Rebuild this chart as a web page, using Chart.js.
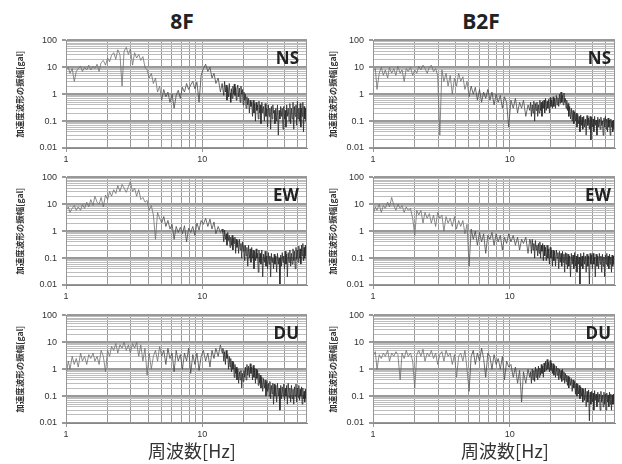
<!DOCTYPE html>
<html lang="ja">
<head>
<meta charset="utf-8">
<script src="https://cdn.jsdelivr.net/npm/chart.js@4.4.1/dist/chart.umd.min.js"></script>
<style>
  body { margin: 0; background: #fff; width: 622px; height: 464px; position: relative; overflow: hidden; }
  canvas { position: absolute; }
  .head { position: absolute; top: 11px; width: 120px; text-align: center; font: bold 21px "Open Sans", "Noto Sans", sans-serif; line-height: 21px; color: #222; }
  .comp { position: absolute; width: 60px; text-align: right; font: bold 17px "Open Sans", "Noto Sans", sans-serif; line-height: 17px; color: #222; }
  .xt { position: absolute; top: 439px; width: 140px; text-align: center; font: 18px "Noto Sans CJK JP", sans-serif; line-height: 22px; color: #333; }
</style>
</head>
<body>
<div class="head" style="left:122px">8F</div>
<div class="head" style="left:421px">B2F</div>

<canvas id="c8NS"></canvas>
<canvas id="c8EW"></canvas>
<canvas id="c8DU"></canvas>
<canvas id="cBNS"></canvas>
<canvas id="cBEW"></canvas>
<canvas id="cBDU"></canvas>

<div class="comp" style="left:239px;top:49px">NS</div>
<div class="comp" style="left:239px;top:186px">EW</div>
<div class="comp" style="left:239px;top:324px">DU</div>
<div class="comp" style="left:551px;top:49px">NS</div>
<div class="comp" style="left:551px;top:186px">EW</div>
<div class="comp" style="left:551px;top:324px">DU</div>

<div class="xt" style="left:122px">周波数[Hz]</div>
<div class="xt" style="left:435px">周波数[Hz]</div>

<script>
// frequency points [Hz] shared by all six spectra
const freq = [
  // 1 - 10 Hz
  1.00, 1.04, 1.07, 1.11, 1.15, 1.19,
  1.23, 1.28, 1.32, 1.37, 1.42, 1.47,
  1.52, 1.58, 1.63, 1.69, 1.75, 1.81,
  1.88, 1.95, 2.02, 2.09, 2.16,
  2.24, 2.32, 2.40, 2.49, 2.58,
  2.67, 2.77, 2.87, 2.97, 3.08,
  3.19, 3.30, 3.42, 3.54,
  3.67, 3.80, 3.94, 4.08, 4.23,
  4.38, 4.54, 4.70, 4.87, 5.04,
  5.22, 5.41, 5.60, 5.80,
  6.01, 6.22, 6.44, 6.67, 6.91,
  7.16, 7.41, 7.68, 7.95, 8.23,
  8.53, 8.83, 9.15, 9.48, 9.82,
  // 10 - 14 Hz
  10.2, 10.6, 11.0, 11.4, 11.8, 12.2, 12.6, 13.1, 13.6, 14.0,
  // 14 - 58 Hz
  14.2, 14.4, 14.6, 14.8, 15.0, 15.2, 15.4, 15.6, 15.8, 16.0,
  16.2, 16.4, 16.6, 16.8, 17.0, 17.2, 17.4, 17.6, 17.8, 18.0,
  18.25, 18.5, 18.75, 19.0, 19.25, 19.5, 19.75, 20.0, 20.25, 20.5,
  20.75, 21.0, 21.3, 21.6, 21.9, 22.2, 22.5, 22.8, 23.1, 23.4,
  23.7, 24.0, 24.3, 24.6, 24.9, 25.2, 25.5, 25.8, 26.1, 26.4,
  26.7, 27.0, 27.4, 27.8, 28.2, 28.6, 29.0, 29.4, 29.8, 30.2,
  30.6, 31.0, 31.4, 31.8, 32.2, 32.6, 33.0, 33.4, 33.8, 34.2,
  34.7, 35.2, 35.7, 36.2, 36.7, 37.2, 37.7, 38.2, 38.7, 39.2,
  39.7, 40.2, 40.7, 41.2, 41.7, 42.2, 42.8, 43.4, 44.0, 44.6,
  45.2, 45.8, 46.4, 47.0, 47.6, 48.2, 48.8, 49.4, 50.0, 50.6,
  51.2, 51.8, 52.4, 53.0, 53.6, 54.2, 54.8, 55.4, 56.0, 56.6,
  57.2, 57.8
];

// 8F amplitudes [gal]
const amp8F_NS = [
  8, 10, 6, 9, 3, 7,
  9, 11, 7, 10, 8, 12,
  8, 11, 9, 13, 7, 15,
  18, 12, 22, 16, 28,
  35, 20, 45, 30, 2,
  40, 55, 30, 48, 12,
  35, 22, 30, 18,
  25, 10, 8, 4, 6,
  2.5, 4, 1.2, 2, 0.6,
  1.5, 0.8, 1.2, 0.5,
  1.0, 0.3, 0.9, 1.4, 0.7,
  1.8, 1.2, 2.5, 1.5, 2.2,
  3, 1.6, 2.8, 0.5, 5,
  9, 13, 7, 10, 4, 6, 2.5, 4, 1.2, 2.5,
  2.5, 0.9, 3, 1.2, 2.2, 0.6, 1.8, 0.8, 2.5, 1.1,
  0.5, 1.6, 0.7, 2, 1, 2.4, 0.9, 1.8, 0.6, 1.5,
  2.2, 0.8, 1.7, 0.5, 2, 1, 1.5, 0.4, 1.2, 0.6,
  1, 0.3, 0.8, 0.4, 0.7, 0.2, 0.6, 0.35, 0.5, 0.15,
  0.6, 0.2, 0.45, 0.1, 0.5, 0.25, 0.4, 0.12, 0.55, 0.2,
  0.4, 0.08, 0.5, 0.2, 0.35, 0.1, 0.45, 0.15, 0.3, 0.06,
  0.4, 0.15, 0.3, 0.05, 0.35, 0.12, 0.4, 0.2, 0.25, 0.08,
  0.3, 0.1, 0.4, 0.03, 0.25, 0.12, 0.35, 0.15, 0.3, 0.05,
  0.35, 0.12, 0.25, 0.06, 0.4, 0.15, 0.3, 0.1, 0.45, 0.08,
  0.3, 0.12, 0.5, 0.05, 0.35, 0.15, 0.4, 0.07, 0.55, 0.12,
  0.3, 0.1, 0.45, 0.06, 0.3, 0.15, 0.5, 0.04, 0.35, 0.12,
  0.3, 0.1
];
const amp8F_EW = [
  6, 8, 5, 7, 9, 6,
  8, 6, 10, 7, 12, 8,
  15, 9, 20, 12, 10, 18,
  8, 22, 15, 30, 20,
  35, 25, 50, 30, 55,
  40, 28, 45, 70, 30,
  40, 20, 35, 15,
  18, 12, 14, 6, 9,
  4, 0.5, 5, 3, 2,
  3.5, 1.5, 2.5, 1.2,
  1.8, 0.5, 1.5, 0.9, 1.4,
  0.8, 1.6, 0.4, 1.3, 0.9,
  1.5, 0.7, 2.0, 1.1, 2.5,
  1.8, 3, 1.5, 2.8, 1.2, 2.2, 0.8, 1.5, 0.9, 1.2,
  0.9, 0.4, 1.1, 0.5, 0.8, 0.3, 0.9, 0.45, 0.7, 0.25,
  0.6, 0.3, 0.7, 0.2, 0.55, 0.35, 0.6, 0.15, 0.5, 0.25,
  0.45, 0.15, 0.5, 0.2, 0.35, 0.1, 0.4, 0.18, 0.3, 0.08,
  0.3, 0.12, 0.25, 0.05, 0.3, 0.1, 0.22, 0.07, 0.25, 0.1,
  0.2, 0.04, 0.18, 0.08, 0.22, 0.1, 0.15, 0.03, 0.2, 0.07,
  0.15, 0.06, 0.2, 0.02, 0.14, 0.07, 0.18, 0.05, 0.12, 0.04,
  0.16, 0.06, 0.12, 0.02, 0.15, 0.07, 0.1, 0.04, 0.14, 0.06,
  0.12, 0.03, 0.15, 0.06, 0.1, 0.01, 0.13, 0.05, 0.16, 0.07,
  0.12, 0.04, 0.18, 0.06, 0.14, 0.02, 0.16, 0.07, 0.2, 0.05,
  0.15, 0.06, 0.22, 0.08, 0.18, 0.04, 0.25, 0.09, 0.2, 0.07,
  0.28, 0.1, 0.22, 0.06, 0.3, 0.12, 0.35, 0.08, 0.25, 0.1,
  0.3, 0.12
];
const amp8F_DU = [
  0.6, 2, 1, 3, 1.5, 2.5,
  1.2, 4, 2, 3, 1.5, 3.5,
  2.5, 4, 2, 3, 1.5, 5,
  3, 0.8, 5, 3, 7,
  5, 9, 4, 8, 6,
  10, 5, 8, 4, 9,
  6, 10, 3, 8,
  2, 6, 0.6, 4, 1,
  3, 5, 2, 7, 3,
  5, 1.5, 6, 2.5,
  4, 0.8, 5, 2, 3.5,
  1, 4, 2, 6, 0.7,
  3.5, 1.5, 4, 0.9, 3,
  5, 2, 4, 1.2, 5, 2.5, 6, 3, 8, 4,
  6, 2, 4.5, 1.5, 5, 2.5, 3.5, 1, 3, 1.2,
  2.5, 0.8, 2, 1, 1.8, 0.5, 1.5, 0.7, 1.2, 0.4,
  1, 0.3, 0.8, 0.4, 0.9, 0.2, 0.7, 0.35, 0.9, 0.5,
  1.2, 0.4, 1.5, 0.6, 1.3, 0.5, 1.6, 0.7, 1.2, 0.4,
  1.4, 0.5, 1.1, 0.3, 1, 0.45, 0.9, 0.25, 0.7, 0.3,
  0.6, 0.2, 0.5, 0.15, 0.45, 0.2, 0.4, 0.1, 0.35, 0.15,
  0.3, 0.1, 0.35, 0.08, 0.25, 0.12, 0.3, 0.05, 0.28, 0.1,
  0.25, 0.06, 0.3, 0.1, 0.2, 0.03, 0.25, 0.08, 0.22, 0.1,
  0.28, 0.07, 0.2, 0.1, 0.25, 0.05, 0.3, 0.09, 0.2, 0.06,
  0.25, 0.08, 0.18, 0.05, 0.22, 0.1, 0.28, 0.06, 0.2, 0.09,
  0.25, 0.07, 0.18, 0.1, 0.22, 0.05, 0.2, 0.08, 0.15, 0.06,
  0.18, 0.08
];

// B2F amplitudes [gal]
const ampB2F_NS = [
  7, 9, 1.5, 6, 10, 5,
  8, 4, 10, 6, 9, 5,
  11, 6, 8, 3, 9, 7,
  10, 5, 8, 6, 11,
  8, 12, 9, 6, 10,
  12, 7, 9, 5, 0.03,
  8, 3, 6, 2,
  5, 1, 4, 2, 6,
  3, 4.5, 1.5, 3, 0.8,
  2, 1, 1.8, 0.6,
  1.5, 0.5, 1.2, 0.7, 1.5,
  0.6, 1.2, 0.4, 1, 0.5,
  0.9, 0.3, 0.8, 0.5, 0.06,
  0.6, 0.3, 0.7, 0.2, 0.5, 0.3, 0.6, 0.15, 0.4, 0.25,
  0.5, 0.15, 0.4, 0.2, 0.55, 0.1, 0.45, 0.25, 0.5, 0.15,
  0.4, 0.2, 0.6, 0.25, 0.5, 0.15, 0.55, 0.3, 0.6, 0.2,
  0.7, 0.25, 0.55, 0.3, 0.65, 0.2, 0.75, 0.35, 0.6, 0.3,
  0.8, 0.35, 0.7, 0.3, 0.9, 0.4, 0.75, 0.35, 1.0, 0.45,
  1.2, 0.5, 0.9, 0.4, 1.1, 0.5, 0.7, 0.3, 0.6, 0.25,
  0.45, 0.15, 0.35, 0.12, 0.3, 0.1, 0.25, 0.08, 0.22, 0.1,
  0.2, 0.06, 0.18, 0.08, 0.15, 0.04, 0.17, 0.07, 0.14, 0.05,
  0.15, 0.06, 0.12, 0.03, 0.16, 0.07, 0.13, 0.05, 0.15, 0.02,
  0.14, 0.06, 0.12, 0.04, 0.15, 0.07, 0.11, 0.03, 0.14, 0.06,
  0.12, 0.05, 0.14, 0.07, 0.1, 0.03, 0.13, 0.06, 0.15, 0.05,
  0.12, 0.04, 0.13, 0.06, 0.11, 0.03, 0.12, 0.06, 0.1, 0.04,
  0.11, 0.05
];
const ampB2F_EW = [
  4, 8, 6, 10, 5, 9,
  7, 12, 8, 18, 9, 6,
  10, 7, 9, 5, 8, 6,
  7, 3, 0.7, 6, 4,
  6, 2, 5, 3, 4.5,
  2, 4, 1.5, 5, 3,
  4, 1, 3.5, 2,
  3, 1.5, 3.5, 1.2, 2.5,
  1.5, 2.5, 0.8, 1.8, 0.05,
  1.2, 0.5, 1, 0.3,
  0.9, 0.4, 0.8, 0.15, 0.7,
  0.5, 0.9, 0.3, 0.8, 0.4,
  0.7, 0.2, 0.6, 0.35, 0.8,
  0.4, 0.7, 0.3, 0.6, 0.2, 0.5, 0.35, 0.6, 0.15, 0.5,
  0.4, 0.15, 0.5, 0.2, 0.35, 0.1, 0.45, 0.2, 0.3, 0.12,
  0.35, 0.15, 0.4, 0.1, 0.3, 0.18, 0.35, 0.08, 0.3, 0.12,
  0.25, 0.08, 0.3, 0.1, 0.22, 0.06, 0.25, 0.1, 0.2, 0.05,
  0.2, 0.08, 0.18, 0.05, 0.2, 0.1, 0.16, 0.04, 0.18, 0.07,
  0.15, 0.05, 0.18, 0.07, 0.14, 0.03, 0.16, 0.06, 0.15, 0.04,
  0.14, 0.05, 0.12, 0.02, 0.15, 0.06, 0.13, 0.04, 0.16, 0.05,
  0.12, 0.03, 0.14, 0.06, 0.11, 0.01, 0.15, 0.05, 0.12, 0.04,
  0.16, 0.06, 0.12, 0.03, 0.14, 0.05, 0.12, 0.01, 0.15, 0.06,
  0.13, 0.04, 0.15, 0.06, 0.11, 0.02, 0.14, 0.05, 0.12, 0.04,
  0.15, 0.06, 0.12, 0.03, 0.14, 0.05, 0.11, 0.02, 0.13, 0.06,
  0.15, 0.05, 0.12, 0.04, 0.14, 0.06, 0.11, 0.03, 0.13, 0.05,
  0.12, 0.06
];
const ampB2F_DU = [
  3, 4.5, 1, 3.5, 2.5, 4,
  3, 5, 2, 4, 3, 4.5,
  3.5, 0.4, 4, 2.5, 5, 3,
  4, 2, 0.2, 3.5, 5,
  3, 5.5, 2, 4, 3,
  5, 2.5, 4, 1.5, 3.5,
  4.5, 2, 5, 3,
  4, 1.5, 3.5, 0.5, 3,
  4, 2, 5, 1, 0.15,
  3, 5, 1.5, 4,
  2, 6, 2.5, 0.5, 4,
  3, 1, 3.5, 1.5, 2.5,
  1, 3, 0.4, 2, 1.2,
  1.5, 0.5, 1.2, 0.3, 0.9, 0.06, 0.8, 0.3, 1, 0.5,
  0.8, 0.3, 1, 0.4, 0.9, 0.35, 1.2, 0.5, 1, 0.4,
  1.3, 0.5, 1.1, 0.6, 1.5, 0.7, 1.3, 0.5, 1.7, 0.8,
  2, 0.9, 2.3, 1, 1.8, 0.8, 2.1, 0.9, 1.7, 0.7,
  1.6, 0.6, 1.4, 0.5, 1.3, 0.6, 1.1, 0.4, 1, 0.45,
  0.9, 0.35, 1, 0.4, 0.8, 0.3, 0.7, 0.35, 0.6, 0.25,
  0.55, 0.2, 0.5, 0.25, 0.45, 0.15, 0.4, 0.2, 0.35, 0.12,
  0.3, 0.1, 0.28, 0.12, 0.25, 0.08, 0.22, 0.1, 0.2, 0.06,
  0.18, 0.07, 0.2, 0.04, 0.15, 0.06, 0.17, 0.012, 0.14, 0.05,
  0.15, 0.06, 0.13, 0.03, 0.16, 0.07, 0.12, 0.04, 0.14, 0.06,
  0.12, 0.03, 0.15, 0.06, 0.11, 0.04, 0.14, 0.05, 0.12, 0.03,
  0.13, 0.06, 0.11, 0.04, 0.14, 0.05, 0.12, 0.03, 0.11, 0.05,
  0.12, 0.05
];

// axis ticks
const xTicks = [1, 2, 3, 4, 5, 6, 7, 8, 9, 10, 20, 30, 40, 50];
const xLabels = [1, 10];
const yTicks = [
  0.01, 0.02, 0.03, 0.04, 0.05, 0.06, 0.07, 0.08, 0.09,
  0.1, 0.2, 0.3, 0.4, 0.5, 0.6, 0.7, 0.8, 0.9,
  1, 2, 3, 4, 5, 6, 7, 8, 9,
  10, 20, 30, 40, 50, 60, 70, 80, 90, 100
];
const yLabels = [0.01, 0.1, 1, 10, 100];
const yTitle = '加速度波形の振幅[gal]';

const plotTops = [38, 175, 313];

// thin frame round the plot area
const framePlugin = {
  id: 'frame',
  afterDraw(chart) {
    const { ctx, chartArea: a } = chart;
    ctx.save();
    ctx.strokeStyle = '#969696';
    ctx.lineWidth = 1;
    ctx.strokeRect(Math.round(a.left) + 0.5, Math.round(a.top) + 0.5,
      Math.round(a.right - a.left) - 1, Math.round(a.bottom - a.top) - 1);
    ctx.restore();
  }
};

function makePanel(id, amps, col, row) {
  const cv = document.getElementById(id);
  cv.width = 312;
  cv.height = 136;
  cv.style.left = (col === 0 ? 0 : 310) + 'px';
  cv.style.top = (plotTops[row] - 8) + 'px';

  const isMajorY = (c) => c.tick && yLabels.includes(c.tick.value);

  return new Chart(cv, {
    type: 'line',
    data: {
      datasets: [{
        data: freq.map((f, i) => ({ x: f, y: amps[i] })),
        borderColor: '#333',
        borderWidth: 0.8,
        pointRadius: 0,
        tension: 0,
        // sparse low-frequency part reads lighter in the original
        segment: {
          borderColor: (c) => c.p0.parsed.x < 5 ? '#6e6e6e' : (c.p0.parsed.x < 14 ? '#4a4a4a' : '#2a2a2a')
        }
      }]
    },
    options: {
      responsive: false,
      animation: false,
      events: [],
      layout: { padding: { top: 8, right: col === 0 ? 5 : 7, left: 0, bottom: 0 } },
      plugins: { legend: { display: false }, tooltip: { enabled: false } },
      scales: {
        x: {
          type: 'logarithmic',
          min: 1,
          max: 58.8,
          afterBuildTicks: (s) => { s.ticks = xTicks.map(v => ({ value: v })); },
          afterFit: (s) => { s.height = 18; },
          ticks: {
            autoSkip: false, maxRotation: 0, minRotation: 0, padding: 2,
            color: '#333', font: { size: 9, family: '"Liberation Sans", sans-serif' },
            callback: (v) => xLabels.includes(v) ? String(v) : ''
          },
          grid: {
            color: '#999', lineWidth: 1, tickLength: 4,
            tickColor: (c) => (c.tick && xLabels.includes(c.tick.value)) ? '#999' : 'rgba(0,0,0,0)'
          },
          border: { color: '#888' }
        },
        y: {
          type: 'logarithmic',
          min: 0.01,
          max: 100,
          afterBuildTicks: (s) => { s.ticks = yTicks.map(v => ({ value: v })); },
          afterFit: (s) => { s.width = col === 0 ? 66 : 63; },
          ticks: {
            autoSkip: false, padding: 5,
            color: '#333', font: { size: 9, family: '"Liberation Sans", sans-serif' },
            callback: (v) => yLabels.includes(v) ? String(v) : ''
          },
          grid: {
            color: (c) => isMajorY(c) ? '#999' : '#bdbdbd',
            lineWidth: (c) => isMajorY(c) ? 2 : 1,
            tickLength: 4,
            tickColor: (c) => isMajorY(c) ? '#999' : 'rgba(0,0,0,0)'
          },
          border: { color: '#888' },
          title: {
            display: true,
            text: yTitle,
            color: '#333',
            font: { size: 8.5, weight: 'bold', family: '"Noto Sans CJK JP", sans-serif' },
            padding: { top: col === 0 ? 15 : 18, bottom: 0 }
          }
        }
      }
    },
    plugins: [framePlugin]
  });
}

makePanel('c8NS', amp8F_NS, 0, 0);
makePanel('c8EW', amp8F_EW, 0, 1);
makePanel('c8DU', amp8F_DU, 0, 2);
makePanel('cBNS', ampB2F_NS, 1, 0);
makePanel('cBEW', ampB2F_EW, 1, 1);
makePanel('cBDU', ampB2F_DU, 1, 2);
</script>
</body>
</html>
